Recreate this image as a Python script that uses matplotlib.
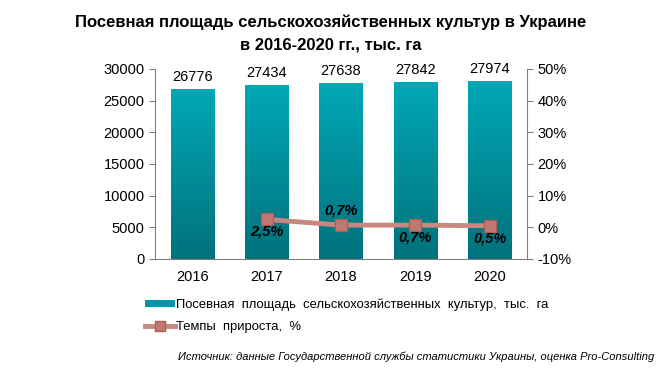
import numpy as np
import matplotlib.pyplot as plt
from matplotlib.colors import LinearSegmentedColormap
from matplotlib.lines import Line2D
from matplotlib.patches import Patch

plt.rcParams['font.family'] = ['Liberation Sans', 'DejaVu Sans']

years = ['2016', '2017', '2018', '2019', '2020']
area = [26776, 27434, 27638, 27842, 27974]
growth_years = ['2017', '2018', '2019', '2020']
growth = [2.5, 0.7, 0.7, 0.5]
growth_labels = ['2,5%', '0,7%', '0,7%', '0,5%']
label_above = [False, True, False, False]

fig = plt.figure(figsize=(6.62, 3.71), dpi=100)
ax = fig.add_axes([155 / 662, 1 - 259 / 371, 372 / 662, 190 / 371])
x = np.arange(len(years))
bars = ax.bar(x, area, width=0.58, color='#0096A3', zorder=2)

# vertical gradient inside each bar
cmap = LinearSegmentedColormap.from_list('teal', ['#00727C', '#00A8B6'])
grad = np.linspace(0, 1, 256).reshape(-1, 1)
for b in bars:
    b.set_alpha(0)
    ax.imshow(grad, cmap=cmap, origin='lower', aspect='auto', zorder=2,
              extent=[b.get_x(), b.get_x() + b.get_width(), 0, b.get_height()])
    ax.text(b.get_x() + b.get_width() / 2, b.get_height() + 900, str(int(b.get_height())),
            ha='center', va='bottom', fontsize=10.5)

ax.set_xlim(-0.5, len(years) - 0.5)
ax.set_ylim(0, 30000)
ax.set_yticks(range(0, 30001, 5000))
ax.set_xticks(x)
ax.set_xticklabels(years)
ax.tick_params(axis='both', labelsize=10.5, color='#808080', length=4)
ax.tick_params(axis='x', length=0, pad=8)
for s in ['top', 'right']:
    ax.spines[s].set_visible(False)
for s in ['left', 'bottom']:
    ax.spines[s].set_color('#808080')

ax2 = ax.twinx()
gx = [years.index(y) for y in growth_years]
ax2.plot(gx, growth, color='#C8877F', lw=3.5, marker='s', markersize=9,
         markerfacecolor='#C07870', markeredgecolor='#A86058', zorder=3)
for xi, v, lab, up in zip(gx, growth, growth_labels, label_above):
    ax2.text(xi, v + (4.6 if up else -3.9), lab, ha='center', va='center',
             fontsize=10.5, fontweight='bold', fontstyle='italic')
ax2.set_ylim(-10, 50)
ax2.set_yticks(range(-10, 51, 10))
ax2.set_yticklabels([f'{v}%' for v in range(-10, 51, 10)])
ax2.tick_params(axis='y', labelsize=10.5, color='#808080', length=4)
for s in ['top', 'left', 'bottom']:
    ax2.spines[s].set_visible(False)
ax2.spines['right'].set_color('#808080')

fig.text(0.5, 1 - 22 / 371, 'Посевная площадь сельскохозяйственных культур в Украине',
         ha='center', va='center', fontsize=12, fontweight='bold')
fig.text(0.5, 1 - 45 / 371, 'в 2016-2020 гг., тыс. га',
         ha='center', va='center', fontsize=12, fontweight='bold')

handles = [Patch(facecolor='#0096A3', edgecolor='none'),
           Line2D([0], [0], color='#C8877F', lw=3.5, marker='s', markersize=7,
                  markerfacecolor='#C07870', markeredgecolor='#A86058')]
fig.legend(handles, ['Посевная  площадь  сельскохозяйственных  культур,  тыс.  га',
                     'Темпы  прироста,  %'],
           loc='upper left', bbox_to_anchor=(138 / 662, 1 - 292 / 371), frameon=False,
           fontsize=9.4, handlelength=2.3, handleheight=0.5, handletextpad=0.1,
           labelspacing=0.75, borderpad=0)

fig.text(654 / 662, 1 - 357 / 371,
         'Источник: данные Государственной службы статистики Украины, оценка Pro-Consulting',
         ha='right', va='center', fontsize=8, fontstyle='italic')

fig.savefig('out.png', dpi=100)
